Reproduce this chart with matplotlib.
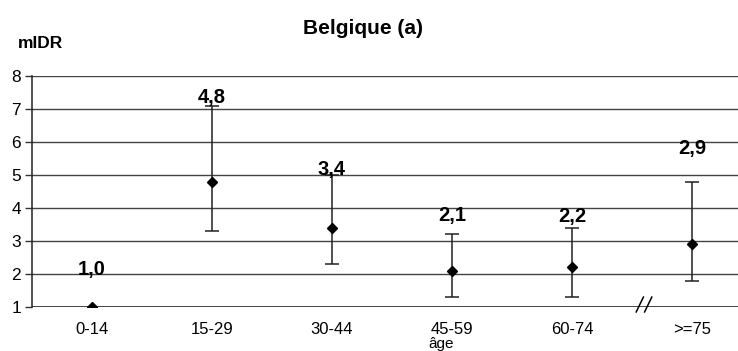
import numpy as np
import matplotlib.pyplot as plt

# données
ages = ['0-14', '15-29', '30-44', '45-59', '60-74', '>=75']
midr = [1.0, 4.8, 3.4, 2.1, 2.2, 2.9]
ic_bas = [np.nan, 3.3, 2.3, 1.3, 1.3, 1.8]
ic_haut = [np.nan, 7.1, 5.0, 3.2, 3.4, 4.8]
etiquettes = ['1,0', '4,8', '3,4', '2,1', '2,2', '2,9']
decalage_etiq = [20, -1, -3, 7, 1, 17]   # décalage vertical (pt) des étiquettes

plt.rcParams['font.family'] = ['Liberation Sans', 'DejaVu Sans']

fig = plt.figure(figsize=(7.38, 3.51), dpi=100)
ax = fig.add_axes([32 / 738, 1 - 307 / 351, 1 - 32 / 738, (307 - 76) / 351])

x = np.arange(len(ages))
y = np.array(midr)
lo = np.array(ic_bas)
hi = np.array(ic_haut)
err = np.nan_to_num(np.vstack([y - lo, hi - y]))
avec_ic = ~np.isnan(lo)

ax.errorbar(x[avec_ic], y[avec_ic], yerr=err[:, avec_ic], fmt='none',
            ecolor='#222222', elinewidth=1.1, capsize=5, capthick=1.1, zorder=3)
ax.plot(x, y, linestyle='none', marker='D', markersize=5, color='black', zorder=4)

for xi, yi, top, lab, d in zip(x, y, hi, etiquettes, decalage_etiq):
    base = yi if np.isnan(top) else top
    ax.annotate(lab, xy=(xi, base), xytext=(0, d), textcoords='offset points',
                ha='center', va='bottom', fontsize=14.5, fontweight='bold', zorder=5)

ax.set_xlim(-0.5, -0.5 + (738 - 32) / 120)
ax.set_ylim(1, 8)
ax.set_yticks(range(1, 9))
ax.set_xticks(x)
ax.set_xticklabels(ages)
ax.tick_params(axis='y', labelsize=12.5, length=5, width=1, pad=3, color='#333333')
ax.tick_params(axis='x', labelsize=12, length=0, pad=11)
for v in range(2, 9):
    ax.axhline(v, color='#444444', linewidth=1, zorder=1)
ax.axhline(1, color='#222222', linewidth=1.2, zorder=2)

for s in ['top', 'right', 'bottom']:
    ax.spines[s].set_visible(False)
ax.spines['left'].set_color('#222222')
ax.spines['left'].set_linewidth(1.1)

# signe de rupture d'axe
for dx in (-0.035, 0.035):
    ax.plot([4.57 + dx, 4.63 + dx], [0.85, 1.3], color='black', linewidth=1.1,
            clip_on=False, zorder=6)

fig.text(363 / 738, 1 - 28 / 351, 'Belgique (a)', ha='center', va='center',
         fontsize=15, fontweight='bold')
fig.text(18 / 738, 1 - 43 / 351, 'mIDR', ha='left', va='center',
         fontsize=12.5, fontweight='bold')
fig.text(441 / 738, 1 - 344 / 351, 'âge', ha='center', va='center', fontsize=11)

fig.savefig('out.png', dpi=100)
